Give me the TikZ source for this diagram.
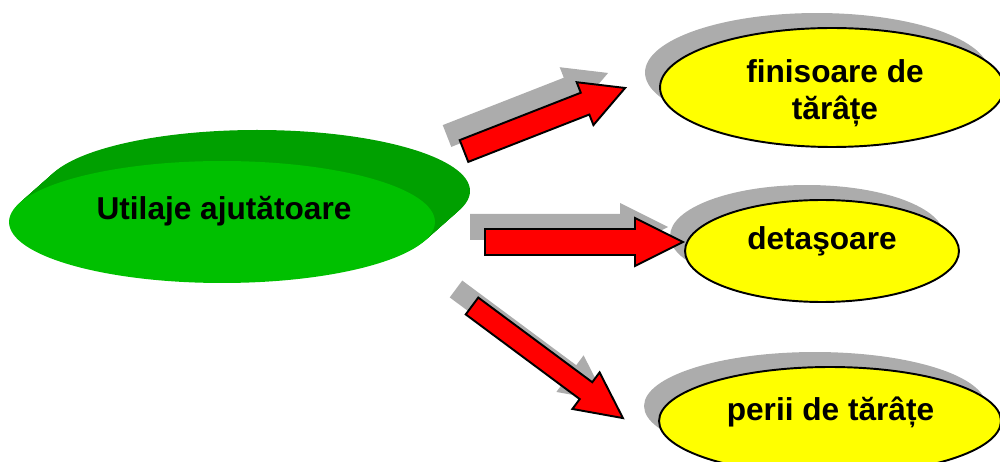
\documentclass[tikz,border=0pt]{standalone}
\usepackage{fontspec}
\setmainfont{Liberation Sans}
\usetikzlibrary{shapes.geometric,shadows}

\definecolor{discgreen}{RGB}{0,192,0}
\definecolor{rimleft}{RGB}{0,170,0}
\definecolor{rimmid}{RGB}{0,160,0}
\definecolor{rimright}{RGB}{0,222,0}
\definecolor{shadowgray}{RGB}{172,172,172}
\definecolor{topicyellow}{RGB}{255,255,0}
\definecolor{arrowred}{RGB}{255,0,0}

% side wall of the disc: dark along most of its width, brighter at the right end
\pgfdeclarehorizontalshading{discrim}{100bp}{%
  color(0bp)=(rimleft); color(20bp)=(rimmid); color(75bp)=(rimmid);
  color(90bp)=(rimright); color(100bp)=(rimright)}

\tikzset{
  caption/.style={font=\fontsize{18}{21.5}\selectfont\bfseries, text=black,
    inner sep=0pt, align=center, anchor=base},
  topic/.style={ellipse, draw=black, line width=1.1pt, fill=topicyellow,
    inner sep=0pt,
    copy shadow={shadow xshift=-0.3cm, shadow yshift=0.3cm,
      fill=shadowgray, draw=none}},
  arrow body/.style={fill=arrowred, draw=black, line width=1.1pt, line join=miter},
  arrow shade/.style={fill=shadowgray, draw=none},
  % block arrow: length / shaft half width / head half width / head length
  pics/blockarrow/.style args={#1/#2/#3/#4}{code={
    \path[pic actions] (0,{-#2}) -- ({#1-#4},{-#2}) -- ({#1-#4},{-#3})
      -- (#1,0) -- ({#1-#4},{#3}) -- ({#1-#4},{#2}) -- (0,{#2}) -- cycle;
  }}
}

\begin{document}
\begin{tikzpicture}[x=0.02cm, y=-0.02cm]
  \useasboundingbox (0,0) rectangle (1000,462);
  \clip (0,0) rectangle (1000,462);

  % raised green disc: side wall built from stacked ellipses
  \foreach \k in {20,...,1}
    \shade[shading=discrim, shift={({1.75*\k},{-1.55*\k})}]
      (222,222) ellipse [x radius=213, y radius=61];
  \node[ellipse, fill=discgreen, inner sep=0pt,
    minimum width=8.52cm, minimum height=2.44cm] (disc) at (222,222) {};
  \node[caption] (disctext) at (224,220) {Utilaje ajutătoare};

  % target ellipses
  \node[topic, minimum width=6.88cm, minimum height=2.38cm] (fin) at (832,87.5) {};
  \node[topic, minimum width=5.48cm, minimum height=2.04cm] (det) at (822,251) {};
  \node[topic, minimum width=6.84cm, minimum height=2.16cm] (per) at (830,421) {};

  \node[caption] (fintext) at (835,120) {finisoare de\\tărâțe};
  \node[caption] (dettext) at (822,250) {detaşoare};
  \node[caption] (pertext) at (830.5,420) {perii de tărâțe};

  % arrow tails
  \coordinate (a1) at (464,151);
  \coordinate (a2) at (485,242);
  \coordinate (a3) at (472,306);
  \coordinate (s1) at (447,136);
  \coordinate (s2) at (470,227);
  \coordinate (s3) at (456,289);

  % arrow shadows
  \pic[arrow shade, rotate=21.37] at (s1) {blockarrow=173/11.7/23/43};
  \pic[arrow shade] at (s2) {blockarrow=198/13/24/48};
  \pic[arrow shade, rotate=-36.6] at (s3) {blockarrow=188/10.5/22.8/46};

  % red arrows
  \pic[arrow body, rotate=21.37] at (a1) {blockarrow=173/11.7/23/43};
  \pic[arrow body] at (a2) {blockarrow=198/13/24/48};
  \pic[arrow body, rotate=-36.6] at (a3) {blockarrow=188/10.5/22.8/46};
\end{tikzpicture}
\end{document}
